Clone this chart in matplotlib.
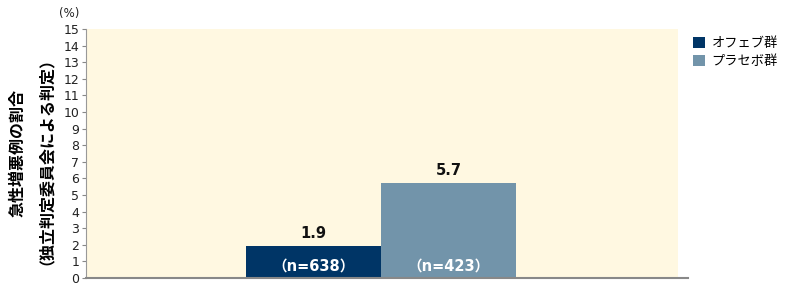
import matplotlib
matplotlib.use("Agg")
import matplotlib.pyplot as plt
from matplotlib.patches import Rectangle, Patch

plt.rcParams['font.family'] = ['DejaVu Sans', 'Noto Sans CJK JP']

groups = ["オフェブ群", "プラセボ群"]
values = [1.9, 5.7]
n_labels = ["（n=638）", "（n=423）"]
colors = ["#003566", "#7294aa"]
yticks = list(range(0, 16))
ylabel_lines = ["急性増悪例の割合", "（独立判定委員会による判定）"]

fig = plt.figure(figsize=(8, 2.88), dpi=100)
ax = fig.add_axes([86/800, 1-278/288, (688-86)/800, (278-29)/288])

bw = 1.0
x = [0, 1]
xlim = (-1.685, 2.774)
ax.set_xlim(*xlim)
ax.set_ylim(0, 15)
ax.add_patch(Rectangle((xlim[0], 0), (678-86)/135, 15, facecolor="#fff8e1",
                       edgecolor="none", zorder=0))
ax.bar(x, values, width=bw, color=colors, zorder=2)

for xi, v, nl in zip(x, values, n_labels):
    ax.text(xi, v + 0.35, f"{v}", ha="center", va="bottom", fontsize=10.5,
            fontweight="bold", color="#111111", zorder=3)
    ax.text(xi, 0.72, nl, ha="center", va="center", fontsize=10.5,
            fontweight="bold", color="white", zorder=3,
            family=['DejaVu Sans', 'Noto Sans CJK JP'])

ax.set_yticks(yticks)
ax.set_yticklabels([str(t) for t in yticks], fontsize=9, color="#222222")
ax.set_xticks([])
ax.tick_params(axis="y", direction="out", length=3, width=0.8, color="#888888", pad=2)
for s in ["top", "right"]:
    ax.spines[s].set_visible(False)
ax.spines["left"].set_color("#999999")
ax.spines["left"].set_linewidth(0.8)
ax.spines["bottom"].set_color("#888888")
ax.spines["bottom"].set_linewidth(1.5)
ax.patch.set_alpha(0)

fig.text(69/800, 1-13/288, "(%)", ha="center", va="center", fontsize=8.5, color="#222222")

fig.text(17/800, 1-153/288, ylabel_lines[0], rotation=90, ha="center", va="center",
         fontsize=11.5, fontweight="bold", family=['Noto Sans CJK JP', 'DejaVu Sans'])
fig.text(38/800, 1-153/288, ylabel_lines[1], rotation=90, ha="center", va="center",
         fontsize=11.5, fontweight="bold", family=['Noto Sans CJK JP', 'DejaVu Sans'])

handles = [Patch(facecolor=c, edgecolor="none") for c in colors]
leg = fig.legend(handles, groups, loc="upper left", bbox_to_anchor=(688/800, 1-32/288),
                 frameon=False, handlelength=0.9, handleheight=0.9,
                 handletextpad=0.5, labelspacing=0.35, borderaxespad=0,
                 prop={'family': ['Noto Sans CJK JP', 'DejaVu Sans'], 'size': 9.5})

fig.savefig("out.png", dpi=100)
